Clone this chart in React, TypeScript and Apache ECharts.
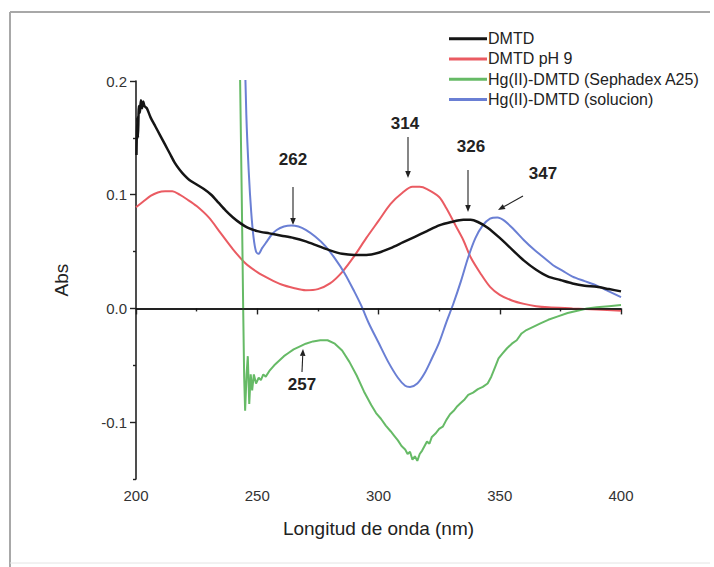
import React, { useEffect, useRef } from "react";
import * as echarts from "echarts";

const legendNames = ["DMTD", "DMTD pH 9", "Hg(II)-DMTD (Sephadex A25)", "Hg(II)-DMTD (solucion)"];
const colors = ["#151515", "#ea5b62", "#66ba66", "#6a7fd4"];
const yMajorTicks = [-0.1, 0, 0.1, 0.2];
const yMinorTicks = [-0.15, -0.05, 0.05, 0.15];

const dmtd: number[][] = [
  [200.2, 0.135], [200.5, 0.168], [200.8, 0.15], [201.2, 0.178], [201.6, 0.172], [202, 0.183], [202.5, 0.176],
  [203, 0.182], [203.5, 0.178], [204.5, 0.176], [206, 0.168], [208, 0.16], [210, 0.152], [212, 0.144],
  [214, 0.136], [216, 0.128], [218, 0.122], [220, 0.117], [222, 0.113], [225, 0.109], [228, 0.105],
  [231, 0.1], [234, 0.093], [237, 0.086], [240, 0.08], [243, 0.075], [246, 0.071], [250, 0.068],
  [255, 0.066], [260, 0.064], [265, 0.062], [270, 0.059], [275, 0.055], [280, 0.051], [285, 0.048],
  [290, 0.047], [295, 0.047], [300, 0.049], [305, 0.053], [310, 0.058], [315, 0.063], [320, 0.068],
  [325, 0.073], [330, 0.076], [335, 0.078], [338, 0.078], [341, 0.076], [345, 0.071], [350, 0.062],
  [355, 0.052], [360, 0.042], [365, 0.034], [370, 0.028], [375, 0.025], [380, 0.022], [385, 0.02],
  [390, 0.019], [395, 0.017], [400, 0.015],
];

const dmtdPh9: number[][] = [
  [200, 0.089], [203, 0.094], [206, 0.099], [209, 0.102], [212, 0.103], [215, 0.103], [218, 0.1],
  [221, 0.096], [225, 0.09], [230, 0.08], [235, 0.066], [240, 0.052], [245, 0.04], [250, 0.032],
  [255, 0.026], [260, 0.021], [265, 0.018], [270, 0.016], [275, 0.017], [280, 0.022], [285, 0.032],
  [290, 0.046], [295, 0.062], [300, 0.077], [305, 0.092], [310, 0.102], [314, 0.107], [317, 0.107],
  [320, 0.105], [325, 0.098], [328, 0.088], [332, 0.072], [335, 0.06], [338, 0.045], [342, 0.031],
  [346, 0.019], [350, 0.012], [355, 0.007], [360, 0.004], [365, 0.002], [370, 0.001], [380, 0],
  [390, -0.001], [400, -0.002],
];

const hgSephadex: number[][] = [
  [242.6, 0.25], [243.6, 0.1], [244.2, 0], [244.6, -0.06], [245, -0.09], [245.6, -0.058], [246.1, -0.042],
  [246.7, -0.084], [247.3, -0.058], [247.9, -0.072], [248.6, -0.058], [249.5, -0.066], [250.6, -0.061],
  [251.5, -0.063], [252.5, -0.058], [253.5, -0.06], [255, -0.055],
  [257, -0.05], [259, -0.046], [261, -0.042], [263, -0.039], [265, -0.036], [267, -0.034], [270, -0.031],
  [273, -0.029], [276, -0.028], [279, -0.028], [282, -0.031], [285, -0.037], [288, -0.047], [291, -0.059],
  [294, -0.073], [297, -0.085], [299, -0.092], [301, -0.097], [303, -0.103], [305, -0.108], [306.5, -0.112],
  [308, -0.116], [309.5, -0.121], [311, -0.124], [312, -0.128], [313, -0.126], [314, -0.133], [315, -0.13],
  [316, -0.134], [317, -0.128], [318, -0.125], [319, -0.121], [320, -0.117], [321, -0.119], [322, -0.113],
  [323.5, -0.11], [325, -0.106], [326.5, -0.104], [328, -0.098], [329.5, -0.093], [331, -0.09],
  [332.5, -0.086], [334, -0.083], [335.5, -0.08], [337, -0.076], [339, -0.074], [341, -0.071],
  [343, -0.069], [345, -0.066], [346.5, -0.06], [348, -0.052], [349.5, -0.044], [351, -0.04],
  [353, -0.035], [355, -0.031], [357, -0.028], [359, -0.022], [361, -0.019], [364, -0.016],
  [367, -0.013], [370, -0.01], [374, -0.007], [378, -0.004], [382, -0.002], [386, 0], [390, 0.001],
  [395, 0.002], [400, 0.003],
];

const hgSolucion: number[][] = [
  [244.6, 0.25], [245.5, 0.17], [246.5, 0.12], [247.5, 0.085], [248.5, 0.062], [249.5, 0.05],
  [250.5, 0.048], [252, 0.053], [254, 0.059], [256, 0.065], [258, 0.069], [261, 0.072], [264, 0.073],
  [267, 0.072], [270, 0.069], [274, 0.063], [278, 0.055], [282, 0.044], [286, 0.031], [290, 0.015],
  [293, 0.002], [296, -0.013], [300, -0.03], [304, -0.047], [308, -0.061], [311, -0.068], [313, -0.069],
  [316, -0.066], [319, -0.057], [322, -0.044], [325, -0.03], [328, -0.012], [331, 0.005], [334, 0.024],
  [337, 0.045], [340, 0.062], [343, 0.073], [346, 0.079], [349, 0.08], [352, 0.077], [356, 0.069],
  [360, 0.06], [364, 0.052], [368, 0.045], [372, 0.038], [376, 0.033], [380, 0.028], [385, 0.024],
  [390, 0.02], [395, 0.015], [400, 0.01],
];

const annotations = [
  { text: "262", tx: 293, ty: 159, x1: 293, y1: 187, x2: 293, y2: 225 },
  { text: "314", tx: 405, ty: 123, x1: 408, y1: 137, x2: 408, y2: 178 },
  { text: "326", tx: 471, ty: 146, x1: 468, y1: 170, x2: 468, y2: 212 },
  { text: "347", tx: 543, ty: 173, x1: 523, y1: 196, x2: 498, y2: 210 },
  { text: "257", tx: 302, ty: 384, x1: 302, y1: 372, x2: 303, y2: 349 },
];

const FONT = "'Liberation Sans', Arial, sans-serif";

function arrow(x1: number, y1: number, x2: number, y2: number) {
  const dx = x2 - x1;
  const dy = y2 - y1;
  const len = Math.sqrt(dx * dx + dy * dy);
  const ux = dx / len;
  const uy = dy / len;
  const hl = 7;
  const hw = 2.8;
  const bx = x2 - ux * hl;
  const by = y2 - uy * hl;
  return [
    { type: "line", shape: { x1, y1, x2: bx, y2: by }, style: { stroke: "#222", lineWidth: 1.1 } },
    {
      type: "polygon",
      shape: { points: [[x2, y2], [bx - uy * hw, by + ux * hw], [bx + uy * hw, by - ux * hw]] },
      style: { fill: "#222" },
    },
  ];
}

export default function App() {
  const ref = useRef<HTMLDivElement>(null);
  useEffect(() => {
    document.body.style.margin = "0";
    const chart = echarts.init(ref.current!, null, { renderer: "svg" });
    const smoothing = [0.25, 0.3, 0, 0.3];
    const series = [dmtd, dmtdPh9, hgSephadex, hgSolucion].map((d, i) => ({
      name: legendNames[i],
      type: "line",
      data: d,
      showSymbol: false,
      symbol: "none",
      clip: true,
      smooth: smoothing[i],
      z: i === 0 ? 3 : 2,
      lineStyle: { color: colors[i], width: i === 0 ? 2.5 : 2 },
      itemStyle: { color: colors[i] },
      ...(i === 0
        ? {
            markLine: {
              silent: true,
              symbol: "none",
              label: { show: false },
              lineStyle: { color: "#111", width: 1.6, type: "solid" },
              data: [{ yAxis: 0 }],
            },
          }
        : {}),
    }));
    const graphics: any[] = [
      { type: "line", shape: { x1: 10, y1: 12, x2: 710, y2: 12 }, style: { stroke: "#a8a8a8", lineWidth: 2 } },
      { type: "line", shape: { x1: 10, y1: 12, x2: 10, y2: 567 }, style: { stroke: "#a8a8a8", lineWidth: 2 } },
      { type: "line", shape: { x1: 10, y1: 563, x2: 710, y2: 563 }, style: { stroke: "#e4e4e4", lineWidth: 1 } },
    ];
    annotations.forEach((a) => {
      graphics.push({
        type: "text",
        x: a.tx,
        y: a.ty,
        style: {
          text: a.text,
          fill: "#222",
          font: `bold 17px ${FONT}`,
          align: "center",
          verticalAlign: "middle",
        },
      });
      graphics.push(...arrow(a.x1, a.y1, a.x2, a.y2));
    });
    chart.setOption({
      animation: false,
      backgroundColor: "#fff",
      textStyle: { fontFamily: FONT },
      grid: { left: 136, right: 93, top: 81, bottom: 88 },
      legend: {
        orient: "vertical",
        left: 444,
        top: 25,
        itemWidth: 38,
        itemHeight: 3,
        itemGap: 3,
        icon: "rect",
        data: legendNames,
        textStyle: { color: "#222", fontSize: 16, lineHeight: 17.3, fontFamily: FONT, padding: [0, 0, 0, -4] },
      },
      xAxis: {
        type: "value",
        min: 200,
        max: 400,
        interval: 50,
        name: "Longitud de onda (nm)",
        nameLocation: "middle",
        nameGap: 40,
        nameTextStyle: { fontSize: 19, color: "#222", fontFamily: FONT },
        axisLine: { show: true, lineStyle: { color: "#222", width: 1.6 } },
        axisTick: { show: true, length: 6, lineStyle: { color: "#222", width: 1.4 } },
        minorTick: { show: true, splitNumber: 2, length: 3, lineStyle: { color: "#222", width: 1.4 } },
        axisLabel: { color: "#333", fontSize: 15, margin: 9, fontFamily: FONT },
        splitLine: { show: false },
      },
      yAxis: [
        {
          type: "value",
          min: -0.15,
          max: 0.2,
          name: "Abs",
          nameLocation: "middle",
          nameGap: 65,
          nameTextStyle: { fontSize: 19, color: "#222", fontFamily: FONT },
          axisLine: { show: true, onZero: false, lineStyle: { color: "#222", width: 1.6 } },
          axisTick: { show: true, length: 6, customValues: yMajorTicks, lineStyle: { color: "#222", width: 1.4 } },
          axisLabel: {
            color: "#333",
            fontSize: 15,
            margin: 9,
            fontFamily: FONT,
            customValues: yMajorTicks,
            formatter: (v: number) => (Math.abs(v) < 1e-9 ? "0.0" : v.toFixed(1)),
          },
          splitLine: { show: false },
        },
        {
          type: "value",
          min: -0.15,
          max: 0.2,
          position: "left",
          axisLine: { show: false },
          axisTick: { show: true, length: 3, customValues: yMinorTicks, lineStyle: { color: "#222", width: 1.4 } },
          axisLabel: { show: false, customValues: yMinorTicks },
          splitLine: { show: false },
        },
      ],
      series,
      graphic: graphics,
    });
    return () => chart.dispose();
  }, []);
  return <div ref={ref} style={{ width: 714, height: 567 }} />;
}
